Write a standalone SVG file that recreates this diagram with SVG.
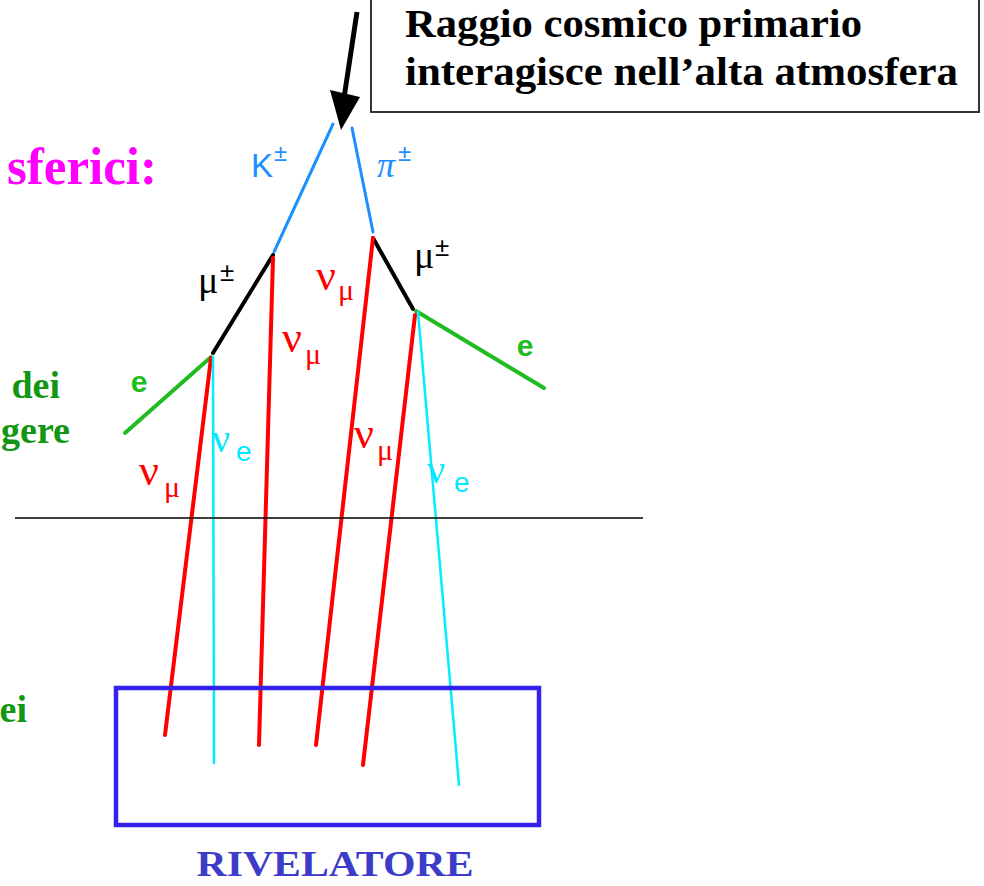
<svg xmlns="http://www.w3.org/2000/svg" width="984" height="886" viewBox="0 0 984 886">
<style>
.serif{font-family:"Liberation Serif","Times New Roman",serif;font-weight:bold}
.sans{font-family:"Liberation Sans",Arial,sans-serif}
.sym{font-family:"Liberation Serif","DejaVu Serif",serif}
.blue{fill:#1e8fff}
.red{fill:#ff0000}
.cyan{fill:#00e8ff}
.grn{fill:#22bb22}
.trk{fill:none;stroke-linecap:round}
</style>
<rect width="984" height="886" fill="#ffffff"/>

<g id="primary-box">
<rect x="371" y="-5" width="608" height="117" fill="#ffffff" stroke="#333333" stroke-width="2"/>
<text class="serif" x="405" y="37" font-size="40" textLength="457" lengthAdjust="spacingAndGlyphs">Raggio cosmico primario</text>
<text class="serif" x="405" y="85" font-size="40" textLength="553" lengthAdjust="spacingAndGlyphs">interagisce nell’alta atmosfera</text>
</g>

<g id="left-labels">
<text class="serif" x="157" y="184" font-size="52" fill="#ff00ff" text-anchor="end" textLength="150" lengthAdjust="spacingAndGlyphs">sferici:</text>
<text class="serif" x="60" y="398" font-size="38" fill="#139613" text-anchor="end">dei</text>
<text class="serif" x="70" y="443" font-size="38" fill="#139613" text-anchor="end">gere</text>
<text class="serif" x="27" y="722" font-size="38" fill="#139613" text-anchor="end">ei</text>
</g>

<g id="connectors">
<!-- primary arrow -->
<path d="M357,12 L344,98" stroke="#000" stroke-width="5" fill="none"/>
<polygon points="330,90 360,97 341,130" fill="#000"/>
<!-- mesons -->
<line class="trk" x1="333" y1="124" x2="274" y2="252" stroke="#1e8fff" stroke-width="3"/>
<line class="trk" x1="352" y1="128" x2="373" y2="232" stroke="#1e8fff" stroke-width="3"/>
<!-- muons -->
<line class="trk" x1="273" y1="255" x2="213" y2="353" stroke="#000" stroke-width="4"/>
<line class="trk" x1="373" y1="238" x2="413" y2="309" stroke="#000" stroke-width="4"/>
<!-- electrons -->
<line class="trk" x1="211" y1="357" x2="125" y2="433" stroke="#22bb22" stroke-width="4"/>
<line class="trk" x1="416" y1="311" x2="544" y2="388" stroke="#22bb22" stroke-width="4"/>
<!-- muon neutrinos -->
<line class="trk" x1="211" y1="358" x2="165" y2="735" stroke="#ff0000" stroke-width="4"/>
<line class="trk" x1="273" y1="258" x2="259" y2="745" stroke="#ff0000" stroke-width="4"/>
<line class="trk" x1="373" y1="238" x2="316" y2="745" stroke="#ff0000" stroke-width="4"/>
<line class="trk" x1="415" y1="315" x2="363" y2="765" stroke="#ff0000" stroke-width="4"/>
<!-- electron neutrinos -->
<line class="trk" x1="213" y1="357" x2="214" y2="763" stroke="#00eeff" stroke-width="2.5"/>
<line class="trk" x1="418" y1="312" x2="459" y2="785" stroke="#00eeff" stroke-width="2.5"/>
<!-- ground line -->
<line x1="15" y1="518" x2="643" y2="518" stroke="#000" stroke-width="1.5"/>
</g>

<g id="particle-labels">
<text class="sans blue" x="251" y="177" font-size="33">K</text>
<text class="sans blue" x="274" y="161" font-size="24">±</text>
<text class="sym blue" x="377" y="177" font-size="36" font-style="italic">π</text>
<text class="sans blue" x="398" y="161" font-size="24">±</text>

<text class="sym" x="198" y="293" font-size="38">μ</text>
<text class="sans" x="220" y="281" font-size="26">±</text>
<text class="sym" x="414" y="268" font-size="38">μ</text>
<text class="sans" x="435" y="256" font-size="26">±</text>

<text class="sans grn" x="139" y="392" font-size="30" text-anchor="middle" font-weight="bold">e</text>
<text class="sans grn" x="525" y="356" font-size="30" text-anchor="middle" font-weight="bold">e</text>

<text class="sym red" x="139" y="485" font-size="44">ν</text>
<text class="sym red" x="164" y="497" font-size="30">μ</text>
<text class="sym red" x="282" y="352" font-size="44">ν</text>
<text class="sym red" x="305" y="364" font-size="30">μ</text>
<text class="sym red" x="316" y="290" font-size="44">ν</text>
<text class="sym red" x="338" y="300" font-size="30">μ</text>
<text class="sym red" x="354" y="448" font-size="44">ν</text>
<text class="sym red" x="377" y="460" font-size="30">μ</text>

<text class="sym cyan" x="212" y="452" font-size="40">ν</text>
<text class="sans cyan" x="236" y="461" font-size="28">e</text>
<text class="sym cyan" x="427" y="483" font-size="40">ν</text>
<text class="sans cyan" x="454" y="492" font-size="28">e</text>
</g>

<g id="detector">
<rect x="116" y="688" width="423" height="137" fill="none" stroke="#3322ee" stroke-width="4.5"/>
<text class="serif" x="335" y="876" font-size="36" fill="#3c3cc8" text-anchor="middle" textLength="277" lengthAdjust="spacingAndGlyphs">RIVELATORE</text>
</g>
</svg>
